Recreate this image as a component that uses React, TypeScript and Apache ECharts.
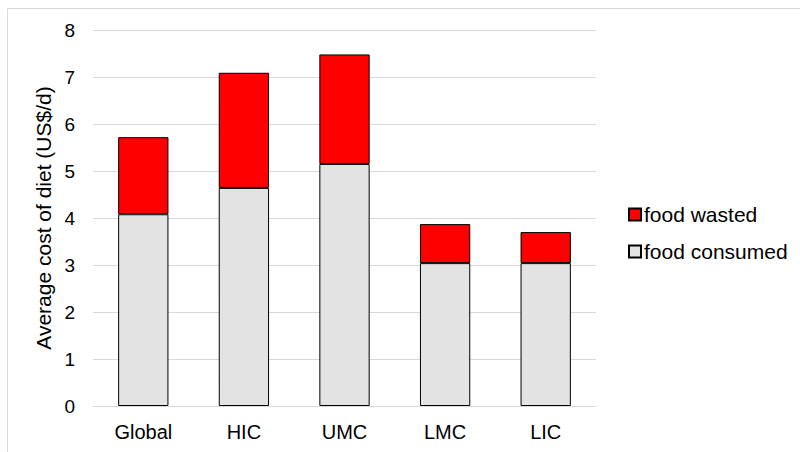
import React, { useEffect, useRef } from "react";
import * as echarts from "echarts";

const categories = ["Global", "HIC", "UMC", "LMC", "LIC"];
const foodConsumed = [4.08, 4.64, 5.15, 3.04, 3.04];
const foodWasted = [1.64, 2.45, 2.33, 0.83, 0.66];
const yTicks = { min: 0, max: 8, interval: 1 };
const yAxisTitle = "Average cost of diet (US$/d)";

export default function App() {
  const ref = useRef<HTMLDivElement>(null);
  useEffect(() => {
    if (!ref.current) return;
    const chart = echarts.init(ref.current, null, { renderer: "svg" });
    const font = "Liberation Sans, Arial, sans-serif";
    chart.setOption({
      animation: false,
      backgroundColor: "#ffffff",
      textStyle: { fontFamily: font },
      graphic: [
        {
          type: "rect",
          shape: { x: 7.5, y: 8.5, width: 820, height: 470 },
          style: { fill: "none", stroke: "#d9d9d9", lineWidth: 1 },
          silent: true,
          z: -10,
        },
      ],
      grid: { left: 93, right: 204, top: 30, bottom: 46 },
      legend: {
        orient: "vertical",
        left: 628,
        top: 204,
        padding: 0,
        icon: "rect",
        itemWidth: 12,
        itemHeight: 12,
        itemGap: 16,
        data: ["food wasted", "food consumed"],
        textStyle: { fontSize: 21, color: "#000", fontFamily: font, lineHeight: 21, padding: [0, 0, 0, -2] },
      },
      xAxis: {
        type: "category",
        data: categories,
        axisLine: { show: true, lineStyle: { color: "#d9d9d9", width: 1 } },
        axisTick: { show: false },
        axisLabel: { fontSize: 20, color: "#000", margin: 16, fontFamily: font },
      },
      yAxis: {
        type: "value",
        min: yTicks.min,
        max: yTicks.max,
        interval: yTicks.interval,
        name: yAxisTitle,
        nameLocation: "middle",
        nameGap: 38,
        nameTextStyle: { fontSize: 21, color: "#000", fontFamily: font },
        axisLine: { show: false },
        axisTick: { show: false },
        axisLabel: { fontSize: 19, color: "#000", margin: 18, fontFamily: font },
        splitLine: { lineStyle: { color: "#d9d9d9", width: 1 } },
      },
      series: [
        {
          name: "food consumed",
          type: "bar",
          stack: "total",
          data: foodConsumed,
          barWidth: "50%",
          itemStyle: { color: "#e3e3e3", borderColor: "#000", borderWidth: 1 },
        },
        {
          name: "food wasted",
          type: "bar",
          stack: "total",
          data: foodWasted,
          barWidth: "50%",
          itemStyle: { color: "#ff0000", borderColor: "#000", borderWidth: 1 },
        },
      ],
    });
    return () => chart.dispose();
  }, []);
  return (
    <div
      ref={ref}
      style={{ position: "absolute", left: 0, top: 0, width: 800, height: 452 }}
    />
  );
}
